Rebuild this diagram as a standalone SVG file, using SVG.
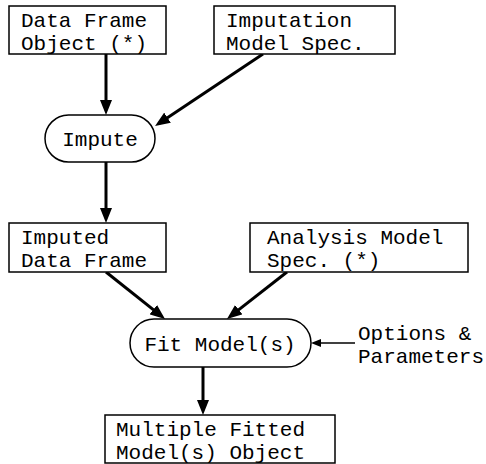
<svg xmlns="http://www.w3.org/2000/svg" width="486" height="464" viewBox="0 0 486 464">
  <style>
    .box { fill: #ffffff; stroke: #000000; stroke-width: 1.5; }
    .lbl { font-family: "Liberation Mono", "Courier New", monospace; font-size: 21px; fill: #000000; }
    .edge { stroke: #000000; stroke-width: 3; fill: none; marker-end: url(#head); }
    .thin { stroke: #000000; stroke-width: 1.5; fill: none; marker-end: url(#headSmall); }
  </style>
  <defs>
    <marker id="head" markerUnits="userSpaceOnUse" viewBox="0 -6 15 12" markerWidth="15" markerHeight="12" refX="10" refY="0" orient="auto">
      <path d="M0,-6 L15,0 L0,6 z" fill="#000000"/>
    </marker>
    <marker id="headSmall" markerUnits="userSpaceOnUse" viewBox="0 -4 10 8" markerWidth="10" markerHeight="8" refX="6" refY="0" orient="auto">
      <path d="M0,-4 L10,0 L0,4 z" fill="#000000"/>
    </marker>
  </defs>
  <rect width="486" height="464" fill="#ffffff"/>

  <g id="connectors">
    <line class="edge" x1="106" y1="54" x2="106" y2="110"/>
    <line class="edge" x1="263" y1="54" x2="159.2" y2="123.2"/>
    <line class="edge" x1="106" y1="162" x2="106" y2="218"/>
    <line class="edge" x1="106" y1="272" x2="161.1" y2="315.9"/>
    <line class="edge" x1="287" y1="272" x2="230.9" y2="315.9"/>
    <line class="edge" x1="203" y1="367" x2="203" y2="410"/>
    <line class="thin" x1="355" y1="343" x2="315" y2="343"/>
  </g>

  <g id="data-frame">
    <rect class="box" x="9" y="6" width="157" height="48"/>
    <text class="lbl" x="21" y="27">Data Frame</text>
    <text class="lbl" x="21" y="50">Object (*)</text>
  </g>

  <g id="imputation-spec">
    <rect class="box" x="214" y="6" width="181" height="48"/>
    <text class="lbl" x="226" y="27">Imputation</text>
    <text class="lbl" x="226" y="50">Model Spec.</text>
  </g>

  <g id="impute">
    <rect class="box" x="45" y="115" width="110" height="47" rx="23.5" ry="23.5"/>
    <text class="lbl" x="100" y="146" text-anchor="middle">Impute</text>
  </g>

  <g id="imputed-data">
    <rect class="box" x="9" y="223" width="157" height="49"/>
    <text class="lbl" x="21" y="244">Imputed</text>
    <text class="lbl" x="21" y="267">Data Frame</text>
  </g>

  <g id="analysis-spec">
    <rect class="box" x="250" y="223" width="218" height="49"/>
    <text class="lbl" x="267" y="244">Analysis Model</text>
    <text class="lbl" x="267" y="267">Spec. (*)</text>
  </g>

  <g id="fit-models">
    <rect class="box" x="130" y="319" width="181" height="48" rx="24" ry="24"/>
    <text class="lbl" x="220" y="351" text-anchor="middle">Fit Model(s)</text>
  </g>

  <g id="options">
    <text class="lbl" x="358" y="340">Options &amp;</text>
    <text class="lbl" x="358" y="363">Parameters</text>
  </g>

  <g id="fitted-models">
    <rect class="box" x="105" y="415" width="230" height="48"/>
    <text class="lbl" x="116" y="436">Multiple Fitted</text>
    <text class="lbl" x="116" y="459">Model(s) Object</text>
  </g>
</svg>
